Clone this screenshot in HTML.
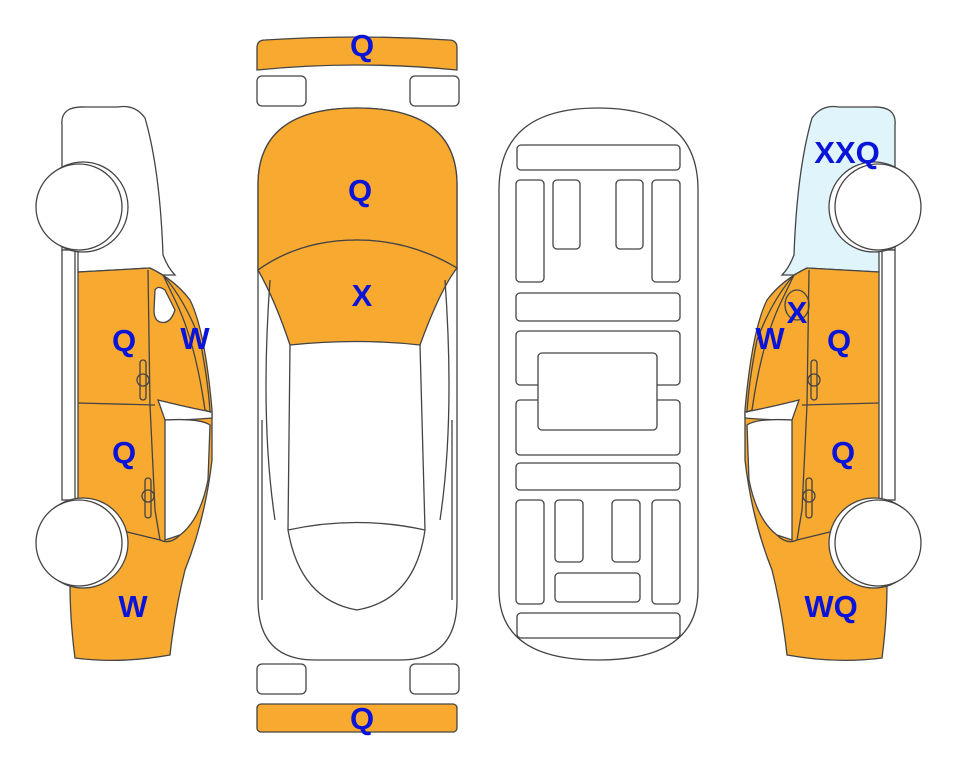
<!DOCTYPE html>
<html><head><style>
html,body{margin:0;padding:0;background:#fff;}
svg{display:block}
text{font-family:"Liberation Sans",sans-serif;font-weight:bold;font-size:31px;fill:#0a14d8;text-anchor:middle}
</style></head><body>
<svg width="963" height="768" viewBox="0 0 963 768" xmlns="http://www.w3.org/2000/svg">
<defs>
<g id="side" stroke="#444" stroke-width="1.3" fill="#fff">
  <path d="M62,250 L62,125 Q60,106 85,107 L118,107 Q135,104 145,118 Q160,170 163,255 Q168,268 175,275 L163,275 L150,268 L78,272 L78,250 Z"/>
  <path fill="#f8a930" d="M78,272 L150,268 Q175,280 190,300 Q205,330 212,410 L212,460 Q205,520 185,570 Q175,610 170,655 Q120,664 75,658 Q70,620 70,585 L95,585 L95,520 L78,520 Z"/>
  <path d="M158,400 Q190,408 212,412 L212,418 Q190,420 165,420 Z"/>
  <path d="M165,420 Q200,418 210,425 L208,480 Q200,520 180,535 L165,540 Z"/>
  <path d="M163,275 Q185,300 200,340 Q208,380 210,412 L205,410 Q195,340 175,300 Z" fill="#f8a930"/>
  <path d="M155,290 Q158,285 165,290 L175,310 Q170,325 160,322 Q154,320 154,310 Z"/>
  <path fill="none" d="M148,270 L150,405 L155,510 L160,540 M78,403 L155,405 M78,520 L160,540 Q170,545 180,535"/>
  <rect x="140" y="360" width="6" height="40" rx="3" fill="none"/>
  <circle cx="143" cy="380" r="6" fill="none"/>
  <rect x="145" y="478" width="6" height="40" rx="3" fill="none"/>
  <circle cx="148" cy="496" r="6" fill="none"/>
  <rect x="62" y="250" width="13" height="250"/>
  <circle cx="83" cy="207" r="45"/>
  <circle cx="79" cy="207" r="43"/>
  <circle cx="83" cy="543" r="45"/>
  <circle cx="79" cy="543" r="43"/>
</g>
</defs>
<use href="#side"/>
<g transform="translate(957,0) scale(-1,1)">
  <g stroke="#444" stroke-width="1.3" fill="#fff">
  <path d="M62,250 L62,125 Q60,106 85,107 L118,107 Q135,104 145,118 Q160,170 163,255 Q168,268 175,275 L163,275 L150,268 L78,272 L78,250 Z" fill="#dff4fb"/>
  <path d="M78,272 L150,268 Q175,280 190,300 Q205,330 212,410 L212,460 Q205,520 185,570 Q175,610 170,655 Q120,664 75,658 Q70,620 70,585 L95,585 L95,520 L78,520 Z" fill="#f8a930"/>
  <path d="M158,400 Q190,408 212,412 L212,418 Q190,420 165,420 Z"/>
  <path d="M165,420 Q200,418 210,425 L208,480 Q200,520 180,535 L165,540 Z"/>
  <path d="M163,275 Q185,300 200,340 Q208,380 210,412 L205,410 Q195,340 175,300 Z" fill="#f8a930"/>
  <ellipse cx="160" cy="305" rx="12" ry="15" fill="#f8a930"/>
  <path fill="none" d="M148,270 L150,405 L155,510 L160,540 M78,403 L155,405 M78,520 L160,540 Q170,545 180,535"/>
  <rect x="140" y="360" width="6" height="40" rx="3" fill="none"/>
  <circle cx="143" cy="380" r="6" fill="none"/>
  <rect x="145" y="478" width="6" height="40" rx="3" fill="none"/>
  <circle cx="148" cy="496" r="6" fill="none"/>
  <rect x="62" y="250" width="13" height="250"/>
  <circle cx="83" cy="207" r="45"/>
  <circle cx="79" cy="207" r="43"/>
  <circle cx="83" cy="543" r="45"/>
  <circle cx="79" cy="543" r="43"/>
  </g>
</g>

<g stroke="#444" stroke-width="1.3" fill="#fff">
  <path d="M257,48 Q257,40 265,40 Q357,34 449,40 Q457,40 457,48 L457,70 Q357,60 257,70 Z" fill="#f8a930"/>
  <rect x="257" y="76" width="49" height="30" rx="5"/>
  <rect x="410" y="76" width="49" height="30" rx="5"/>
  <path d="M258,185 Q258,108 357,108 Q457,108 457,185 L457,600 Q457,660 400,660 L315,660 Q258,660 258,600 Z"/>
  <path d="M258,185 Q258,108 357,108 Q457,108 457,185 L457,268 Q410,240 357,240 Q300,240 258,270 Z" fill="#f8a930"/>
  <path d="M258,270 Q300,240 357,240 Q410,240 457,268 Q440,290 420,345 Q357,338 290,345 Q275,300 258,270 Z" fill="#f8a930"/>
  <path fill="none" d="M290,345 L288,530 Q300,600 357,610 Q415,600 425,530 L420,345 M288,530 Q357,515 425,530 M270,280 Q260,420 275,520 M445,280 Q455,420 440,520 M262,420 L262,600 M452,420 L452,600"/>
  <rect x="257" y="664" width="49" height="30" rx="5"/>
  <rect x="410" y="664" width="49" height="30" rx="5"/>
  <rect x="257" y="704" width="200" height="28" rx="4" fill="#f8a930"/>
</g>

<g stroke="#444" stroke-width="1.3" fill="#fff">
  <path d="M499,190 Q499,108 598,108 Q698,108 698,190 L698,590 Q698,660 598,660 Q499,660 499,590 Z"/>
  <rect x="517" y="145" width="163" height="25" rx="4"/>
  <rect x="516" y="180" width="28" height="102" rx="4"/>
  <rect x="553" y="180" width="27" height="69" rx="4"/>
  <rect x="616" y="180" width="27" height="69" rx="4"/>
  <rect x="652" y="180" width="28" height="102" rx="4"/>
  <rect x="516" y="293" width="164" height="28" rx="4"/>
  <rect x="516" y="331" width="164" height="54" rx="4"/>
  <rect x="516" y="400" width="164" height="55" rx="4"/>
  <rect x="538" y="353" width="119" height="77" rx="4"/>
  <rect x="516" y="463" width="164" height="27" rx="4"/>
  <rect x="516" y="500" width="28" height="104" rx="4"/>
  <rect x="555" y="500" width="28" height="62" rx="4"/>
  <rect x="612" y="500" width="28" height="62" rx="4"/>
  <rect x="652" y="500" width="28" height="104" rx="4"/>
  <rect x="555" y="573" width="85" height="29" rx="4"/>
  <rect x="517" y="613" width="163" height="25" rx="4"/>
</g>

<text x="362" y="56">Q</text>
<text x="360" y="201">Q</text>
<text x="362" y="306">X</text>
<text x="362" y="729">Q</text>
<text x="124" y="351">Q</text>
<text x="195" y="349">W</text>
<text x="124" y="463">Q</text>
<text x="133" y="617">W</text>
<text x="847" y="163">XXQ</text>
<text x="797" y="323">X</text>
<text x="770" y="349">W</text>
<text x="839" y="351">Q</text>
<text x="843" y="463">Q</text>
<text x="831" y="617">WQ</text>
</svg>
</body></html>
